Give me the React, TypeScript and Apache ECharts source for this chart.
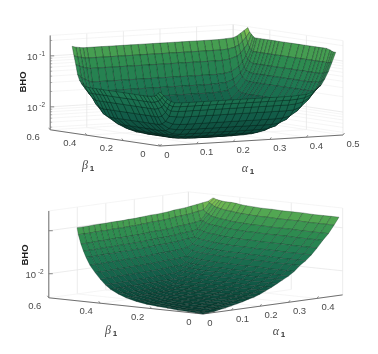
import React, { useEffect, useRef } from "react";
import * as echarts from "echarts";

// Top panel: grid of the surface, and its height in hundredths of a decade above the surface's lowest level.
const topAlpha = [0,.01,.02,.03,.04,.06,.08,.10,.12,.14,.16,.18,.20,.22,.24,.26,.28,.30,.32,.34,.36,.38,.40,.42,.44,.45,.46,.47,.48];
const topBeta = [0,.01,.02,.03,.05,.07,.09,.11,.14,.17,.20,.24,.28,.31,.33,.35,.37,.39,.41,.43,.44,.45,.46,.47,.48];
const topHeight = [
[110,102,95,90,87,86,86,86,86,86,86,86,86,86,86,86,86,86,86,86,86,87,88,93,104,116,130,148,167],
[107,98,89,83,79,78,78,78,78,78,78,78,78,78,78,78,78,78,78,78,78,79,81,87,101,113,128,147,167],
[103,93,83,75,70,68,68,68,68,68,68,68,68,68,68,68,68,68,68,68,68,69,72,81,97,110,127,146,168],
[100,90,78,67,59,57,56,56,56,56,56,56,56,56,56,56,56,56,56,56,56,57,62,75,93,108,125,146,170],
[99,87,74,59,48,42,40,40,40,40,40,40,40,40,40,40,40,40,40,40,41,44,53,70,91,107,124,146,172],
[98,86,72,56,42,32,29,28,28,28,28,28,28,28,28,28,28,28,28,28,30,36,49,68,90,106,124,146,172],
[98,86,72,56,40,27,20,18,18,18,18,18,18,18,18,18,18,18,18,19,23,33,48,68,90,106,124,146,172],
[98,86,72,56,40,26,17,14,11,11,11,11,11,11,11,11,11,11,11,14,20,32,48,68,90,106,124,146,172],
[98,86,72,56,40,26,16,10,7,6,6,6,6,6,6,6,6,6,7,12,20,32,48,68,90,106,124,146,172],
[98,86,72,56,40,26,16,10,6,5,4,3,3,3,3,3,3,4,6,12,20,32,48,68,90,106,124,146,172],
[98,86,72,56,40,26,16,10,6,4,3,2,2,1,1,1,2,3,6,12,20,32,48,68,90,106,124,146,172],
[98,86,72,56,40,26,16,10,6,4,3,2,1,0,0,0,1,3,6,12,20,32,48,68,90,106,124,146,172],
[98,86,72,56,40,26,16,10,6,4,3,2,2,1,1,1,2,3,6,12,20,32,48,68,90,106,124,146,172],
[98,86,72,56,40,26,16,10,6,5,4,3,3,3,3,3,3,4,6,12,20,32,48,68,90,106,124,146,172],
[98,86,72,56,40,26,16,10,9,7,7,7,7,7,7,7,7,7,9,12,20,32,48,68,90,106,124,146,172],
[98,86,72,56,40,26,18,14,13,13,13,13,13,13,13,13,13,13,13,16,20,32,48,68,90,106,124,146,172],
[98,86,72,56,41,30,24,24,24,24,24,24,24,24,24,24,24,24,24,24,26,34,48,68,90,106,124,146,172],
[98,86,72,58,45,38,36,36,36,36,36,36,36,36,36,36,36,36,36,36,37,41,51,69,90,106,124,146,172],
[99,87,76,63,54,51,50,50,50,50,50,50,50,50,50,50,50,50,50,50,50,52,58,72,92,107,124,146,172],
[104,94,84,76,71,70,70,70,70,70,70,70,70,70,70,70,70,70,70,70,70,71,73,82,97,110,127,146,172],
[110,102,95,90,87,86,86,86,86,86,86,86,86,86,86,86,86,86,86,86,86,87,88,93,104,116,130,148,172],
[120,114,110,106,104,104,104,104,104,104,104,104,104,104,104,104,104,104,104,104,104,104,105,108,117,125,137,152,174],
[139,136,133,131,130,130,130,130,130,130,130,130,130,130,130,130,130,130,130,130,130,130,130,132,137,142,151,160,178],
[156,153,152,150,150,150,150,150,150,150,150,150,150,150,150,150,150,150,150,150,150,150,150,151,154,158,164,172,182],
[174,172,171,170,170,170,170,170,170,170,170,170,170,170,170,170,170,170,170,170,170,170,170,171,172,175,180,185,190],
];

// Bottom panel.
const botAlpha = [0,.02,.04,.06,.08,.10,.12,.14,.16,.18,.20,.22,.24,.26,.28,.30,.32,.34,.36,.38,.40,.42,.44,.46,.477];
const botBeta = [0,.03,.06,.10,.14,.18,.22,.26,.30,.33,.36,.38,.40,.42,.44,.455,.465,.475,.485,.49];
const botHeight = [
[0,1,2,5,7,10,13,16,20,23,28,34,40,47,54,61,70,82,91,103,117,133,147,165,182],
[1,1,2,5,7,10,13,16,20,23,28,34,40,47,54,61,70,82,91,103,117,133,147,165,182],
[2,2,3,5,7,10,13,16,20,23,28,34,40,47,54,61,70,82,91,103,117,133,147,165,182],
[3,3,3,5,7,10,13,16,20,23,28,34,40,47,54,61,70,82,91,103,117,133,147,165,182],
[5,5,5,6,8,11,14,17,21,24,29,35,41,48,55,62,71,83,92,104,118,134,148,166,183],
[7,7,7,8,8,11,14,17,21,24,29,35,41,48,55,62,71,83,92,104,118,134,148,166,183],
[9,9,9,10,10,11,14,17,21,24,29,35,41,48,55,62,71,83,92,104,118,134,148,166,183],
[13,13,13,14,14,14,15,18,22,25,30,36,42,49,56,63,72,84,93,105,119,135,149,167,184],
[19,19,19,20,20,20,21,21,23,26,30,36,42,49,56,63,72,84,93,105,119,135,149,167,184],
[26,26,26,27,27,27,28,28,28,29,31,37,43,50,57,64,73,85,94,106,120,136,150,168,185],
[35,35,35,36,36,36,37,37,37,38,38,38,44,52,58,65,74,86,95,107,121,137,151,169,186],
[44,44,44,45,45,45,46,46,46,47,47,48,49,53,60,66,75,87,96,108,122,138,152,170,187],
[56,56,56,57,57,57,58,58,58,59,59,60,61,62,62,68,77,88,98,110,124,140,154,172,189],
[70,70,70,71,71,71,72,72,72,73,73,74,75,76,76,77,78,90,99,111,125,141,155,173,190],
[86,86,86,87,87,87,88,88,88,89,89,90,91,92,92,93,94,96,102,113,127,143,157,175,190],
[103,103,103,104,104,104,105,105,105,106,106,107,108,109,109,110,111,113,114,115,131,145,159,177,191],
[117,117,117,118,118,118,119,119,119,120,120,121,122,123,123,124,125,127,128,129,131,149,163,179,192],
[133,133,133,134,134,134,135,135,135,136,136,137,138,139,139,140,141,143,144,145,147,149,165,183,193],
[154,154,154,155,155,155,156,156,156,157,157,158,159,160,160,161,162,164,165,166,168,170,172,186,195],
[170,170,170,171,171,171,172,172,172,173,173,174,175,176,176,177,178,180,181,182,184,186,188,190,196],
];

// Axis ticks.
const topAlphaTicks = [0, .1, .2, .3, .4, .5];
const topBetaTicks = [0, .2, .4, .6];
const topLogTicks = [-2, -1];
const topMinorMultipliers = [2, 3, 4, 5, 6, 7, 8, 9];
const botAlphaTicks = [0, .1, .2, .3, .4];
const botBetaTicks = [0, .2, .4, .6];
const botLogTicks = [-2, -1];

type View = { ox: number; oy: number; ax: number; ay: number; bx: number; by: number; floor: number; top: number; decade: number; aMax: number; bMax: number; lowest: number };
const topView: View = { ox: 160, oy: 146, ax: 366, ay: -22, bx: -183, by: -27, floor: -2.45, top: -0.6, decade: 51, aMax: 0.5, bMax: 0.6, lowest: -2.49 };
const botView: View = { ox: 203, oy: 314, ax: 285, ay: -39, bx: -257, by: -27, floor: -2.56, top: -0.54, decade: 43, aMax: 0.49, bMax: 0.6, lowest: -2.56 };

const project = (v: View, a: number, b: number, logZ: number) => [
  v.ox + v.ax * a + v.bx * b,
  v.oy + v.ay * a + v.by * b - (logZ - v.floor) * v.decade,
];

const colorStops = [
  [0, 10, 62, 52],
  [0.25, 18, 92, 72],
  [0.5, 30, 120, 82],
  [0.75, 48, 142, 80],
  [0.9, 84, 168, 82],
  [1, 150, 205, 82],
];
const shade = (t: number) => {
  for (let k = 1; k < colorStops.length; k++) {
    if (t <= colorStops[k][0]) {
      const p = colorStops[k - 1], q = colorStops[k];
      const f = (t - p[0]) / (q[0] - p[0]);
      return `rgb(${[1, 2, 3].map((c) => Math.round(p[c] + (q[c] - p[c]) * f)).join(",")})`;
    }
  }
  return "rgb(150,205,82)";
};

type Seg = { p: number[]; q: number[]; color: string; width: number };
const GRID = "#e4e4e4", MINOR = "#f1f1f1", AXIS = "#6f6f6f";

function frame(v: View, aTicks: number[], bTicks: number[], majors: number[], minors: number[]): Seg[] {
  const s: Seg[] = [];
  const add = (p: number[], q: number[], color: string, width = 0.7) => s.push({ p, q, color, width });
  const P = (a: number, b: number, z: number) => project(v, a, b, z);
  const grid = (z: number, c: string) => {
    add(P(0, v.bMax, z), P(v.aMax, v.bMax, z), c);
    add(P(v.aMax, v.bMax, z), P(v.aMax, 0, z), c);
  };
  minors.forEach((z) => grid(z, MINOR));
  majors.forEach((z) => grid(z, GRID));
  aTicks.forEach((a) => {
    add(P(a, v.bMax, v.floor), P(a, v.bMax, v.top), GRID);
    add(P(a, 0, v.floor), P(a, v.bMax, v.floor), MINOR);
  });
  bTicks.forEach((b) => {
    add(P(v.aMax, b, v.floor), P(v.aMax, b, v.top), GRID);
    add(P(0, b, v.floor), P(v.aMax, b, v.floor), MINOR);
  });
  add(P(0, v.bMax, v.top), P(v.aMax, v.bMax, v.top), MINOR);
  add(P(v.aMax, v.bMax, v.top), P(v.aMax, 0, v.top), MINOR);
  add(P(v.aMax, v.bMax, v.floor), P(v.aMax, v.bMax, v.top), GRID);
  add(P(0, v.bMax, v.floor), P(0, v.bMax, v.top), AXIS, 1);
  add(P(0, 0, v.floor), P(0, v.bMax, v.floor), AXIS, 1);
  add(P(0, 0, v.floor), P(v.aMax, 0, v.floor), AXIS, 1);
  const tick = (p: number[], dx: number, dy: number, w = 0.8) => add(p, [p[0] + dx, p[1] + dy], AXIS, w);
  aTicks.forEach((a) => tick(P(a, 0, v.floor), 1.5, -2));
  bTicks.forEach((b) => tick(P(0, b, v.floor), -1.5, -2));
  majors.forEach((z) => tick(P(0, v.bMax, z), 4, 0));
  minors.forEach((z) => tick(P(0, v.bMax, z), 2, 0, 0.5));
  return s;
}

function quads(v: View, al: number[], be: number[], h: number[][], stroke: string) {
  const maxH = Math.max(...h.flat());
  const out: { pts: number[][]; t: number; stroke: string }[] = [];
  const Z = (n: number) => v.lowest + n / 100;
  for (let j = be.length - 2; j >= 0; j--) {
    for (let i = al.length - 2; i >= 0; i--) {
      const c = [[i, j], [i + 1, j], [i + 1, j + 1], [i, j + 1]];
      const pts = c.map(([x, y]) => project(v, al[x], be[y], Z(h[y][x])));
      const mean = c.reduce((acc, [x, y]) => acc + h[y][x], 0) / 4;
      out.push({ pts, t: mean / maxH, stroke });
    }
  }
  return out;
}

type Txt = { t: string; x: number; y: number; font: string; fill?: string; rot?: number };
const LAB = '9.5px "Liberation Sans"';
const SUP = '6.5px "Liberation Sans"';
const TXT = "#4a4a4a";
const fmt = (n: number) => String(n);

function labels(v: View, aT: number[], bT: number[], majorsLabelled: number[], bOff: number[], aOff: number[], bho: number[], bl: number[], al: number[]): Txt[] {
  const out: Txt[] = [];
  aT.forEach((a) => {
    const p = project(v, a, 0, v.floor);
    out.push({ t: fmt(a), x: p[0] + (a === 0 ? 7 : aOff[0]), y: p[1] + aOff[1], font: LAB });
  });
  bT.forEach((b) => {
    const p = project(v, 0, b, v.floor);
    out.push({ t: fmt(b), x: p[0] + bOff[0], y: p[1] + bOff[1], font: LAB });
  });
  majorsLabelled.forEach((z) => {
    const p = project(v, 0, v.bMax, z);
    out.push({ t: "10", x: p[0] - 18, y: p[1] + 1, font: LAB });
    out.push({ t: String(z), x: p[0] - 8, y: p[1] - 2, font: SUP });
  });
  out.push({ t: "BHO", x: bho[0], y: bho[1], font: 'bold 9.5px "Liberation Sans"', rot: Math.PI / 2, fill: "#222" });
  out.push({ t: "β", x: bl[0], y: bl[1], font: 'italic 12px "Liberation Serif"' });
  out.push({ t: "1", x: bl[0] + 7, y: bl[1] + 3, font: 'bold 8px "Liberation Sans"', fill: "#333" });
  out.push({ t: "α", x: al[0], y: al[1], font: 'italic 12px "Liberation Serif"' });
  out.push({ t: "1", x: al[0] + 7, y: al[1] + 3, font: 'bold 8px "Liberation Sans"', fill: "#333" });
  return out;
}

export default function App() {
  const ref = useRef<HTMLDivElement>(null);
  useEffect(() => {
    document.body.style.margin = "0";
    const chart = echarts.init(ref.current!, undefined, { renderer: "svg" });
    const minor: number[] = [];
    [-3, -2, -1].forEach((d) => topMinorMultipliers.forEach((m) => {
      const z = d + Math.log10(m);
      if (z > topView.floor && z < topView.top) minor.push(z);
    }));
    const segs = [
      ...frame(topView, topAlphaTicks, topBetaTicks, topLogTicks, minor),
      ...frame(botView, botAlphaTicks, botBetaTicks, botLogTicks, []),
    ];
    const polys = [
      ...quads(topView, topAlpha, topBeta, topHeight, "rgba(6,28,22,0.62)"),
      ...quads(botView, botAlpha, botBeta, botHeight, "rgba(6,28,22,0.5)"),
    ];
    const texts = [
      ...labels(topView, topAlphaTicks, topBetaTicks, topLogTicks, [-17, 7], [10, 8], [22, 82], [85, 165], [245, 168]),
      ...labels(botView, botAlphaTicks, botBetaTicks, [-2], [-14, 7.5], [11, 8.5], [24, 255], [108, 330], [276, 331]),
    ];
    const base = { type: "custom", coordinateSystem: "cartesian2d", silent: true, clip: false };
    chart.setOption({
      animation: false,
      grid: { left: 0, right: 0, top: 0, bottom: 0 },
      xAxis: { type: "value", min: 0, max: 378, show: false },
      yAxis: { type: "value", min: 0, max: 354, inverse: true, show: false },
      series: [
        {
          ...base,
          data: segs.map((_, i) => [i, 0]),
          renderItem: (_: any, api: any) => {
            const s = segs[api.value(0)];
            const a = api.coord(s.p), b = api.coord(s.q);
            return { type: "line", shape: { x1: a[0], y1: a[1], x2: b[0], y2: b[1] }, style: { stroke: s.color, lineWidth: s.width } };
          },
        },
        {
          ...base,
          data: polys.map((_, i) => [i, 0]),
          renderItem: (_: any, api: any) => {
            const q = polys[api.value(0)];
            return {
              type: "polygon",
              shape: { points: q.pts.map((p) => api.coord(p)) },
              style: { fill: shade(q.t), stroke: q.stroke, lineWidth: 0.55 },
            };
          },
        },
        {
          ...base,
          data: texts.map((_, i) => [i, 0]),
          renderItem: (_: any, api: any) => {
            const t = texts[api.value(0)];
            const c = api.coord([t.x, t.y]);
            return {
              type: "text",
              x: c[0],
              y: c[1],
              rotation: t.rot || 0,
              style: { text: t.t, font: t.font, fill: t.fill || TXT, align: "center", verticalAlign: "middle" },
            };
          },
        },
      ],
    });
    return () => chart.dispose();
  }, []);
  return <div ref={ref} style={{ width: 378, height: 354, filter: "blur(0.35px)" }} />;
}
